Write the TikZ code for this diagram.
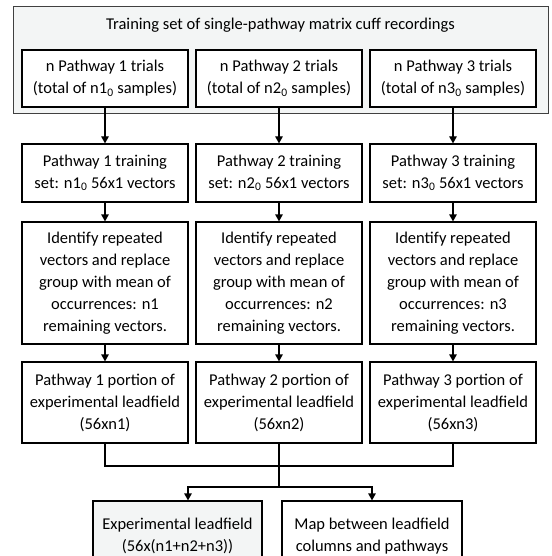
\documentclass[tikz,border=0pt]{standalone}
\usepackage{fontspec}
\setmainfont{Carlito}
\usetikzlibrary{arrows.meta}
\definecolor{panelgray}{HTML}{F3F5F5}
\tikzset{
  txt/.style={font=\fontsize{16.5}{22}\selectfont, align=center},
  box/.style={txt, draw=black, line width=1.2pt, fill=white, inner sep=0pt, minimum width=166pt},
  panel/.style={draw=black!75, line width=1pt, fill=panelgray, inner sep=0pt},
  flow/.style={line width=1.2pt, -{Triangle[length=7pt,width=7.5pt]}},
  link/.style={line width=1.2pt}
}
\begin{document}
\begin{tikzpicture}[x=1pt, y=-1pt]
\useasboundingbox (0,0) rectangle (551,556);
\clip (0,0) rectangle (551,556);
% training set panel
\node[panel, minimum width=535pt, minimum height=107pt] (train) at (280.5,60.5) {};
\node[txt] (title) at (280.5,25) {Training set of single-pathway matrix cuff recordings};
\node[box, minimum height=57pt] (trialsA) at (105,78.5) {n Pathway 1 trials\\(total of n1\textsubscript{0} samples)};
\node[box, minimum height=57pt] (trialsB) at (279,78.5) {n Pathway 2 trials\\(total of n2\textsubscript{0} samples)};
\node[box, minimum height=57pt] (trialsC) at (453,78.5) {n Pathway 3 trials\\(total of n3\textsubscript{0} samples)};
% training vectors
\node[box, minimum height=58pt] (setA) at (105,173) {Pathway 1 training\\set: n1\textsubscript{0} 56x1 vectors};
\node[box, minimum height=58pt] (setB) at (279,173) {Pathway 2 training\\set: n2\textsubscript{0} 56x1 vectors};
\node[box, minimum height=58pt] (setC) at (453,173) {Pathway 3 training\\set: n3\textsubscript{0} 56x1 vectors};
% remove repeats
\node[box, minimum height=122pt] (reduceA) at (105,283) {Identify repeated\\vectors and replace\\group with mean of\\occurrences: n1\\remaining vectors.};
\node[box, minimum height=122pt] (reduceB) at (279,283) {Identify repeated\\vectors and replace\\group with mean of\\occurrences: n2\\remaining vectors.};
\node[box, minimum height=122pt] (reduceC) at (453,283) {Identify repeated\\vectors and replace\\group with mean of\\occurrences: n3\\remaining vectors.};
% leadfield portions
\node[box, minimum height=81pt] (portionA) at (105,402.5) {Pathway 1 portion of\\experimental leadfield\\(56xn1)};
\node[box, minimum height=81pt] (portionB) at (279,402.5) {Pathway 2 portion of\\experimental leadfield\\(56xn2)};
\node[box, minimum height=81pt] (portionC) at (453,402.5) {Pathway 3 portion of\\experimental leadfield\\(56xn3)};
% outputs
\node[box, fill=panelgray, minimum width=169pt, minimum height=70pt] (lead) at (177.5,536) {Experimental leadfield\\(56x(n1+n2+n3))};
\node[box, minimum width=180pt, minimum height=70pt] (map) at (372,536) {Map between leadfield\\columns and pathways};
\coordinate (join) at (279,466);
\coordinate (split) at (279,487);
\draw[flow] (trialsA) -- (setA);
\draw[flow] (trialsB) -- (setB);
\draw[flow] (trialsC) -- (setC);
\draw[flow] (setA) -- (reduceA);
\draw[flow] (setB) -- (reduceB);
\draw[flow] (setC) -- (reduceC);
\draw[flow] (reduceA) -- (portionA);
\draw[flow] (reduceB) -- (portionB);
\draw[flow] (reduceC) -- (portionC);
\draw[link] (portionA.south) |- (join) -| (portionC.south);
\draw[link] (portionB.south) -- (split);
\draw[flow] (split) -| ([xshift=10.5pt]lead.north);
\draw[flow] (split) -| (map.north);
\end{tikzpicture}
\end{document}
